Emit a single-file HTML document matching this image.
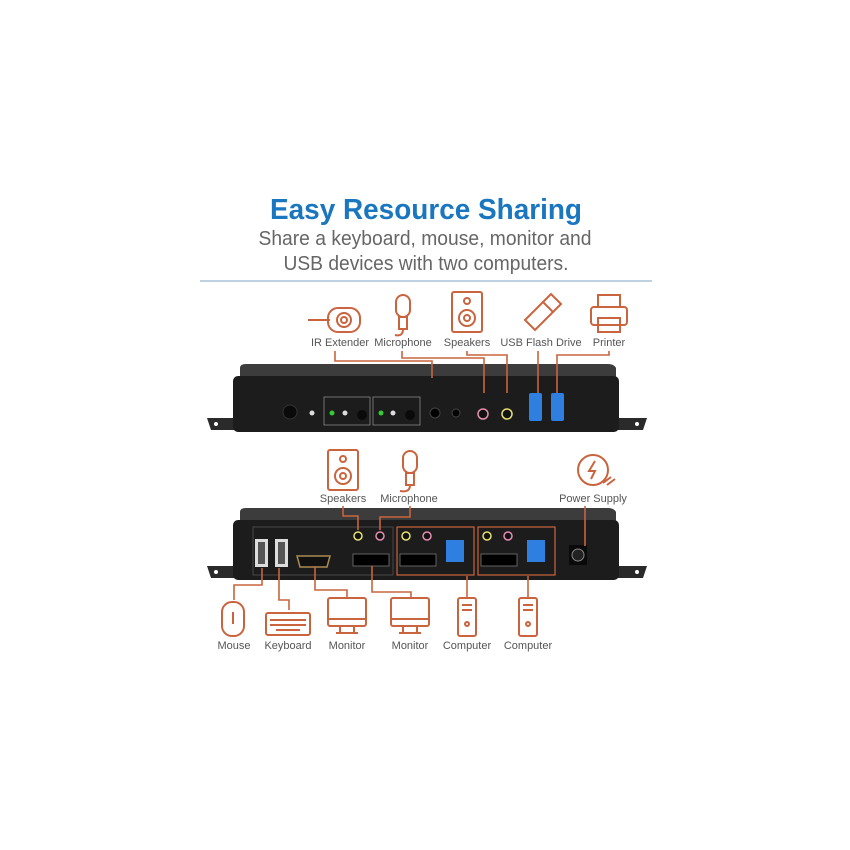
<!DOCTYPE html>
<html><head><meta charset="utf-8"><style>
html,body{margin:0;padding:0;background:#fff;}
svg{display:block}
text{font-family:"Liberation Sans",sans-serif}
.lbl{font-size:11px;fill:#555}
.o{fill:none;stroke:#c9643e;stroke-width:1.6}
.ic{fill:none;stroke:#c9643e;stroke-width:2}
</style></head><body>
<svg width="850" height="850" viewBox="0 0 850 850">
<rect width="850" height="850" fill="#fff"/>
<text x="426" y="219" text-anchor="middle" font-size="29" font-weight="bold" fill="#1b76c0" textLength="312" lengthAdjust="spacingAndGlyphs">Easy Resource Sharing</text>
<text x="425" y="245" text-anchor="middle" font-size="20" fill="#666" textLength="333" lengthAdjust="spacingAndGlyphs">Share a keyboard, mouse, monitor and</text>
<text x="426" y="270" text-anchor="middle" font-size="20" fill="#666" textLength="285" lengthAdjust="spacingAndGlyphs">USB devices with two computers.</text>
<line x1="200" y1="281" x2="652" y2="281" stroke="#a9c4d6" stroke-width="1.5"/>

<!-- TOP icons -->
<g class="ic">
<line x1="308" y1="320" x2="330" y2="320"/><rect x="328" y="308" width="32" height="24" rx="10"/><circle cx="344" cy="320" r="7"/><circle cx="344" cy="320" r="3"/>
<rect x="396" y="295" width="14" height="22" rx="7"/><rect x="399" y="317" width="8" height="12"/><path d="M403 329 q0 8 -8 6"/>
<rect x="452" y="292" width="30" height="40" rx="2"/><circle cx="467" cy="301" r="3"/><circle cx="467" cy="318" r="8"/><circle cx="467" cy="318" r="3"/>
<path d="M525 320 l18 -18 l10 10 l-18 18 z"/><path d="M543 302 l8 -8 l10 10 l-8 8"/>
<path d="M598 307 v-12 h22 v12"/><rect x="591" y="307" width="36" height="18" rx="3"/><rect x="598" y="318" width="22" height="14"/>
</g>
<text class="lbl" x="340" y="346" text-anchor="middle">IR Extender</text>
<text class="lbl" x="403" y="346" text-anchor="middle">Microphone</text>
<text class="lbl" x="467" y="346" text-anchor="middle">Speakers</text>
<text class="lbl" x="541" y="346" text-anchor="middle">USB Flash Drive</text>
<text class="lbl" x="609" y="346" text-anchor="middle">Printer</text>

<!-- TOP device -->
<path d="M207 418 h30 v12 h-26 z" fill="#2a2a2a"/><path d="M612 418 h35 l-4 12 h-31 z" fill="#2a2a2a"/>
<circle cx="216" cy="424" r="2" fill="#fff"/><circle cx="637" cy="424" r="2" fill="#fff"/>
<path d="M240 368 q0 -4 6 -4 h362 q6 0 8 4 l0 10 h-376 z" fill="#3c3c3c"/>
<rect x="233" y="376" width="386" height="56" rx="5" fill="#1c1c1c"/>
<circle cx="290" cy="412" r="7" fill="#0a0a0a" stroke="#333"/>
<circle cx="312" cy="413" r="2.5" fill="#ddd"/>
<rect x="324" y="397" width="46" height="28" fill="none" stroke="#888" stroke-width="0.8"/>
<rect x="373" y="397" width="47" height="28" fill="none" stroke="#888" stroke-width="0.8"/>
<circle cx="332" cy="413" r="2.5" fill="#3c3"/><circle cx="345" cy="413" r="2.5" fill="#ddd"/><circle cx="362" cy="415" r="5" fill="#0a0a0a"/>
<circle cx="381" cy="413" r="2.5" fill="#3c3"/><circle cx="393" cy="413" r="2.5" fill="#ddd"/><circle cx="410" cy="415" r="5" fill="#0a0a0a"/>
<circle cx="435" cy="413" r="5" fill="#000" stroke="#444"/><circle cx="456" cy="413" r="4" fill="#000" stroke="#444"/>
<circle cx="483" cy="414" r="5" fill="#111" stroke="#e68fb0" stroke-width="1.5"/>
<circle cx="507" cy="414" r="5" fill="#111" stroke="#e8e070" stroke-width="1.5"/>
<rect x="529" y="393" width="13" height="28" rx="2" fill="#2f7fe0"/><rect x="551" y="393" width="13" height="28" rx="2" fill="#2f7fe0"/>
<g class="o">
<path d="M335 351 v10 h97 v17"/><path d="M402 351 v7 h82 v35"/><path d="M467 351 v4 h40 v38"/>
<path d="M538 351 v42"/><path d="M609 351 v4 h-52 v38"/>
</g>

<!-- BOTTOM icons -->
<g class="ic">
<rect x="328" y="450" width="30" height="40" rx="2"/><circle cx="343" cy="459" r="3"/><circle cx="343" cy="476" r="8"/><circle cx="343" cy="476" r="3"/>
<rect x="403" y="451" width="14" height="22" rx="7"/><rect x="406" y="473" width="8" height="12"/><path d="M410 485 q0 8 -10 6"/>
<circle cx="593" cy="470" r="15"/><path d="M595 461 l-6 10 h6 l-4 8"/><path d="M603 483 l8 -6 m-4 8 l8 -6"/>
<rect x="222" y="602" width="22" height="34" rx="10"/><line x1="233" y1="612" x2="233" y2="624"/>
<rect x="266" y="613" width="44" height="22" rx="2"/><path d="M270 620 h36 M270 625 h36 M276 630 h24"/>
<rect x="328" y="598" width="38" height="28" rx="2"/><path d="M340 626 v7 h14 v-7 M336 633 h22"/><line x1="328" y1="619" x2="366" y2="619"/>
<rect x="391" y="598" width="38" height="28" rx="2"/><path d="M403 626 v7 h14 v-7 M399 633 h22"/><line x1="391" y1="619" x2="429" y2="619"/>
<rect x="458" y="598" width="18" height="38" rx="2"/><path d="M462 605 h10 M462 610 h10"/><circle cx="467" cy="624" r="2"/>
<rect x="519" y="598" width="18" height="38" rx="2"/><path d="M523 605 h10 M523 610 h10"/><circle cx="528" cy="624" r="2"/>
</g>
<text class="lbl" x="343" y="502" text-anchor="middle">Speakers</text>
<text class="lbl" x="409" y="502" text-anchor="middle">Microphone</text>
<text class="lbl" x="593" y="502" text-anchor="middle">Power Supply</text>
<text class="lbl" x="234" y="649" text-anchor="middle">Mouse</text>
<text class="lbl" x="288" y="649" text-anchor="middle">Keyboard</text>
<text class="lbl" x="347" y="649" text-anchor="middle">Monitor</text>
<text class="lbl" x="410" y="649" text-anchor="middle">Monitor</text>
<text class="lbl" x="467" y="649" text-anchor="middle">Computer</text>
<text class="lbl" x="528" y="649" text-anchor="middle">Computer</text>

<!-- BOTTOM device -->
<path d="M207 566 h30 v12 h-26 z" fill="#2a2a2a"/><path d="M612 566 h35 l-4 12 h-31 z" fill="#2a2a2a"/>
<circle cx="216" cy="572" r="2" fill="#fff"/><circle cx="637" cy="572" r="2" fill="#fff"/>
<path d="M240 512 q0 -4 6 -4 h362 q6 0 8 4 l0 10 h-376 z" fill="#3c3c3c"/>
<rect x="233" y="520" width="386" height="60" rx="5" fill="#1c1c1c"/>
<rect x="253" y="527" width="140" height="48" fill="none" stroke="#555" stroke-width="0.8"/>
<rect x="397" y="527" width="77" height="48" fill="none" stroke="#c9643e" stroke-width="1.2"/>
<rect x="478" y="527" width="77" height="48" fill="none" stroke="#c9643e" stroke-width="1.2"/>
<rect x="255" y="539" width="13" height="28" fill="#ddd"/><rect x="258" y="542" width="7" height="22" fill="#555"/>
<rect x="275" y="539" width="13" height="28" fill="#ddd"/><rect x="278" y="542" width="7" height="22" fill="#555"/>
<path d="M297 556 h33 l-3 11 h-27 z" fill="#111" stroke="#a98a50" stroke-width="1.5"/>
<circle cx="358" cy="536" r="4" fill="#111" stroke="#e8e070" stroke-width="1.5"/><circle cx="380" cy="536" r="4" fill="#111" stroke="#e68fb0" stroke-width="1.5"/>
<rect x="353" y="554" width="36" height="12" fill="#000" stroke="#777" stroke-width="0.8"/>
<circle cx="406" cy="536" r="4" fill="#111" stroke="#e8e070" stroke-width="1.5"/><circle cx="427" cy="536" r="4" fill="#111" stroke="#e68fb0" stroke-width="1.5"/>
<rect x="400" y="554" width="36" height="12" fill="#000" stroke="#777" stroke-width="0.8"/>
<rect x="446" y="540" width="18" height="22" fill="#2f7fe0"/>
<circle cx="487" cy="536" r="4" fill="#111" stroke="#e8e070" stroke-width="1.5"/><circle cx="508" cy="536" r="4" fill="#111" stroke="#e68fb0" stroke-width="1.5"/>
<rect x="481" y="554" width="36" height="12" fill="#000" stroke="#777" stroke-width="0.8"/>
<rect x="527" y="540" width="18" height="22" fill="#2f7fe0"/>
<rect x="569" y="545" width="18" height="20" fill="#0a0a0a"/><circle cx="578" cy="555" r="6" fill="#222" stroke="#888"/>
<g class="o">
<path d="M343 506 v10 h15 v14"/><path d="M410 506 v11 h-30 v13"/><path d="M585 506 v40"/>
<path d="M262 568 v17 h-28 v15"/><path d="M279 568 v32 h10 v10"/>
<path d="M315 566 v24 h32 v8"/><path d="M372 566 v26 h39 v6"/>
<path d="M467 576 v22"/><path d="M528 576 v22"/>
</g>
</svg>
</body></html>
